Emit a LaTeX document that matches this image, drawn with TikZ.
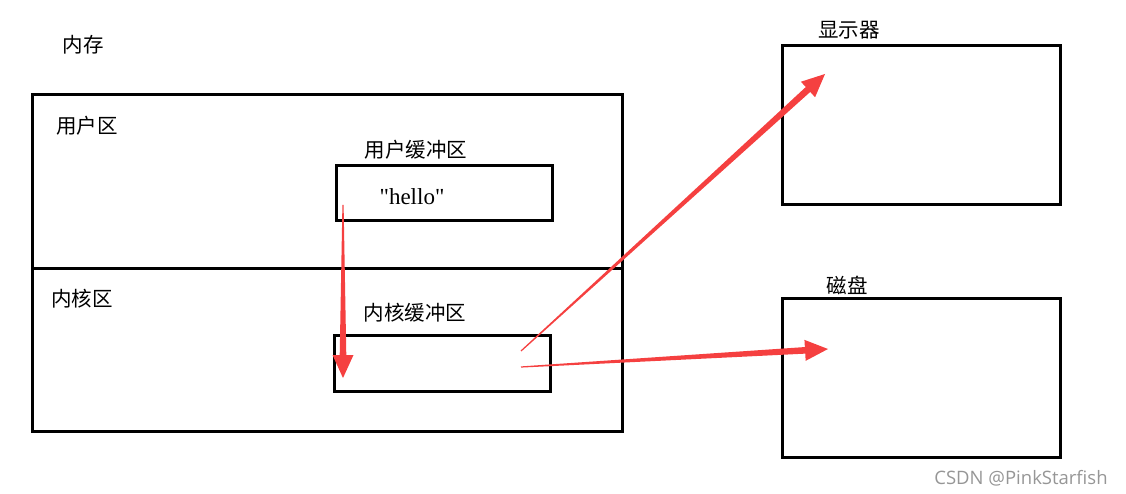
\documentclass[tikz,border=0pt]{standalone}
\usepackage{fontspec}
\setmainfont{Liberation Serif}
\newfontfamily\hellofont{Liberation Serif}
\newfontfamily\cjk{Noto Sans CJK SC}
\newfontfamily\wm{Open Sans}
\usetikzlibrary{calc}
\definecolor{arrred}{RGB}{245,64,64}
\definecolor{wmgray}{RGB}{150,150,150}
\tikzset{
  box/.style={draw=black,line width=3pt},
  lbl/.style={font=\cjk\fontsize{20.5}{22}\selectfont,inner sep=0pt},
  taper/.style={fill=arrred,draw=none},
}
\newcommand{\taperarrow}[2]{%
  \coordinate (H) at ($(#2)!23pt!(#1)$);
  \fill[taper] ($(#1)!0.6pt!90:(#2)$) -- ($(H)!3.3pt!90:(#2)$) -- ($(H)!10.5pt!90:(#2)$) -- (#2)
     -- ($(H)!10.5pt!-90:(#2)$) -- ($(H)!3.3pt!-90:(#2)$) -- ($(#1)!0.6pt!-90:(#2)$) -- cycle;
}
\begin{document}
\begin{tikzpicture}[x=1pt,y=-1pt]
\useasboundingbox (0,0) rectangle (1126,494);
% memory
\draw[box] (32,95) rectangle (622,431);
\draw[box] (32,268) -- (622,268);
\draw[box] (336,166) rectangle (552,221);
\draw[box] (334,335) rectangle (550,391);
\draw[box] (782,46) rectangle (1060,205);
\draw[box] (782,298) rectangle (1060,457);
\node[lbl] (mem) at (83,45) {内存};
\node[lbl] (disp) at (849,30) {显示器};
\node[lbl] (uarea) at (87,126) {用户区};
\node[lbl] (ubuf) at (416,150) {用户缓冲区};
\node[inner sep=0pt,font=\hellofont\fontsize{23}{24}\selectfont] (hello) at (412,197) {"hello"};
\node[lbl] (karea) at (82,299) {内核区};
\node[lbl] (kbuf) at (415,313) {内核缓冲区};
\node[lbl] (disk) at (847,285) {磁盘};
\node[inner sep=0pt,font=\wm\fontsize{18.5}{20}\selectfont,text=wmgray] (wmk) at (1021,478) {CSDN @PinkStarfish};
% arrows
\coordinate (a1s) at (343,205);
\coordinate (a1e) at (343,378);
\coordinate (a2s) at (521,351);
\coordinate (a2e) at (825,74);
\coordinate (a3s) at (521,367);
\coordinate (a3e) at (828,349);
\taperarrow{a1s}{a1e}
\taperarrow{a2s}{a2e}
\taperarrow{a3s}{a3e}
\end{tikzpicture}
\end{document}
